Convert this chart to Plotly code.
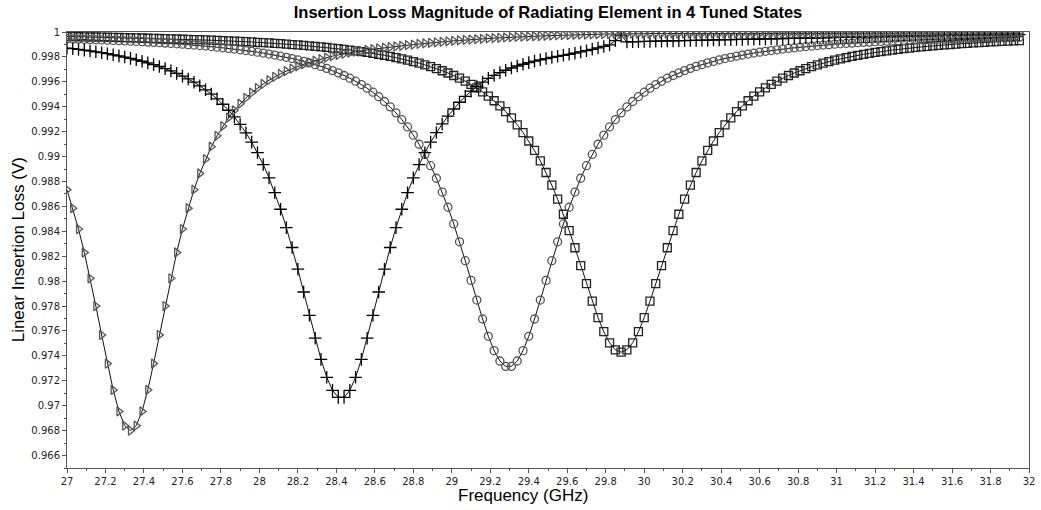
import plotly.graph_objects as go

# Frequency sweep (GHz)
freq = [
    27.00, 27.03, 27.06, 27.09, 27.12, 27.15, 27.18, 27.21, 27.24, 27.27,
    27.30, 27.33, 27.36, 27.39, 27.42, 27.45, 27.48, 27.51, 27.54, 27.57,
    27.60, 27.63, 27.66, 27.69, 27.72, 27.75, 27.78, 27.81, 27.84, 27.87,
    27.90, 27.93, 27.96, 27.99, 28.02, 28.05, 28.08, 28.11, 28.14, 28.17,
    28.20, 28.23, 28.26, 28.29, 28.32, 28.35, 28.38, 28.41, 28.44, 28.47,
    28.50, 28.53, 28.56, 28.59, 28.62, 28.65, 28.68, 28.71, 28.74, 28.77,
    28.80, 28.83, 28.86, 28.89, 28.92, 28.95, 28.98, 29.01, 29.04, 29.07,
    29.10, 29.13, 29.16, 29.19, 29.22, 29.25, 29.28, 29.31, 29.34, 29.37,
    29.40, 29.43, 29.46, 29.49, 29.52, 29.55, 29.58, 29.61, 29.64, 29.67,
    29.70, 29.73, 29.76, 29.79, 29.82, 29.85, 29.88, 29.91, 29.94, 29.97,
    30.00, 30.03, 30.06, 30.09, 30.12, 30.15, 30.18, 30.21, 30.24, 30.27,
    30.30, 30.33, 30.36, 30.39, 30.42, 30.45, 30.48, 30.51, 30.54, 30.57,
    30.60, 30.63, 30.66, 30.69, 30.72, 30.75, 30.78, 30.81, 30.84, 30.87,
    30.90, 30.93, 30.96, 30.99, 31.02, 31.05, 31.08, 31.11, 31.14, 31.17,
    31.20, 31.23, 31.26, 31.29, 31.32, 31.35, 31.38, 31.41, 31.44, 31.47,
    31.50, 31.53, 31.56, 31.59, 31.62, 31.65, 31.68, 31.71, 31.74, 31.77,
    31.80, 31.83, 31.86, 31.89, 31.92, 31.95,
]

# State 1 (triangles)
state_tri = [
    0.98734, 0.98586, 0.98418, 0.98230, 0.98023, 0.97800, 0.97568, 0.97338, 0.97127, 0.96954,
    0.96840, 0.96800, 0.96840, 0.96954, 0.97127, 0.97338, 0.97568, 0.97800, 0.98023, 0.98230,
    0.98418, 0.98586, 0.98734, 0.98864, 0.98979, 0.99079, 0.99167, 0.99244, 0.99312, 0.99371,
    0.99424, 0.99471, 0.99513, 0.99550, 0.99583, 0.99613, 0.99640, 0.99664, 0.99686, 0.99706,
    0.99725, 0.99741, 0.99756, 0.99770, 0.99783, 0.99795, 0.99806, 0.99816, 0.99825, 0.99834,
    0.99842, 0.99849, 0.99856, 0.99862, 0.99868, 0.99874, 0.99879, 0.99884, 0.99889, 0.99894,
    0.99899, 0.99904, 0.99909, 0.99913, 0.99917, 0.99921, 0.99925, 0.99929, 0.99932, 0.99936,
    0.99939, 0.99942, 0.99945, 0.99948, 0.99951, 0.99953, 0.99956, 0.99958, 0.99960, 0.99962,
    0.99964, 0.99966, 0.99968, 0.99970, 0.99972, 0.99973, 0.99975, 0.99976, 0.99978, 0.99979,
    0.99980, 0.99981, 0.99982, 0.99983, 0.99984, 0.99985, 0.99986, 0.99986, 0.99987, 0.99987,
    0.99988, 0.99988, 0.99988, 0.99988, 0.99988, 0.99988, 0.99988, 0.99988, 0.99988, 0.99988,
    0.99988, 0.99989, 0.99989, 0.99989, 0.99989, 0.99989, 0.99989, 0.99989, 0.99989, 0.99989,
    0.99989, 0.99989, 0.99989, 0.99989, 0.99989, 0.99989, 0.99990, 0.99990, 0.99990, 0.99990,
    0.99990, 0.99990, 0.99990, 0.99990, 0.99990, 0.99990, 0.99990, 0.99990, 0.99990, 0.99990,
    0.99990, 0.99991, 0.99991, 0.99991, 0.99991, 0.99991, 0.99991, 0.99991, 0.99991, 0.99991,
    0.99991, 0.99991, 0.99991, 0.99991, 0.99991, 0.99991, 0.99992, 0.99992, 0.99992, 0.99992,
    0.99992, 0.99992, 0.99992, 0.99992, 0.99992, 0.99992,
]

# State 2 (plus)
state_plus = [
    0.99871, 0.99866, 0.99860, 0.99854, 0.99848, 0.99841, 0.99834, 0.99826, 0.99817, 0.99808,
    0.99799, 0.99788, 0.99777, 0.99765, 0.99752, 0.99738, 0.99723, 0.99706, 0.99688, 0.99668,
    0.99646, 0.99623, 0.99597, 0.99568, 0.99536, 0.99502, 0.99463, 0.99420, 0.99372, 0.99318,
    0.99258, 0.99191, 0.99116, 0.99031, 0.98936, 0.98829, 0.98710, 0.98577, 0.98430, 0.98270,
    0.98096, 0.97913, 0.97726, 0.97542, 0.97372, 0.97228, 0.97123, 0.97067, 0.97067, 0.97123,
    0.97228, 0.97372, 0.97542, 0.97726, 0.97913, 0.98096, 0.98270, 0.98430, 0.98577, 0.98710,
    0.98829, 0.98936, 0.99031, 0.99116, 0.99193, 0.99262, 0.99324, 0.99382, 0.99436, 0.99484,
    0.99525, 0.99563, 0.99598, 0.99628, 0.99652, 0.99674, 0.99693, 0.99711, 0.99727, 0.99741,
    0.99754, 0.99766, 0.99777, 0.99787, 0.99796, 0.99805, 0.99813, 0.99821, 0.99830, 0.99840,
    0.99850, 0.99861, 0.99872, 0.99884, 0.99897, 0.99930, 0.99972, 0.99920, 0.99922, 0.99923,
    0.99924, 0.99925, 0.99926, 0.99927, 0.99928, 0.99929, 0.99930, 0.99931, 0.99932, 0.99933,
    0.99934, 0.99935, 0.99936, 0.99937, 0.99938, 0.99939, 0.99940, 0.99941, 0.99942, 0.99943,
    0.99944, 0.99945, 0.99946, 0.99947, 0.99948, 0.99949, 0.99950, 0.99951, 0.99952, 0.99953,
    0.99954, 0.99955, 0.99956, 0.99957, 0.99958, 0.99959, 0.99960, 0.99961, 0.99962, 0.99963,
    0.99964, 0.99965, 0.99966, 0.99967, 0.99968, 0.99969, 0.99970, 0.99970, 0.99971, 0.99971,
    0.99972, 0.99972, 0.99973, 0.99973, 0.99974, 0.99974, 0.99975, 0.99975, 0.99976, 0.99976,
    0.99977, 0.99977, 0.99978, 0.99978, 0.99979, 0.99979,
]

# State 3 (circles)
state_circ = [
    0.99946, 0.99944, 0.99943, 0.99941, 0.99939, 0.99938, 0.99936, 0.99934, 0.99932, 0.99930,
    0.99928, 0.99926, 0.99924, 0.99922, 0.99919, 0.99917, 0.99914, 0.99911, 0.99908, 0.99905,
    0.99902, 0.99898, 0.99895, 0.99891, 0.99887, 0.99883, 0.99878, 0.99873, 0.99868, 0.99863,
    0.99857, 0.99851, 0.99845, 0.99838, 0.99831, 0.99823, 0.99815, 0.99806, 0.99797, 0.99787,
    0.99776, 0.99764, 0.99752, 0.99738, 0.99724, 0.99708, 0.99690, 0.99672, 0.99651, 0.99629,
    0.99605, 0.99578, 0.99549, 0.99517, 0.99481, 0.99442, 0.99399, 0.99351, 0.99297, 0.99238,
    0.99172, 0.99099, 0.99017, 0.98927, 0.98826, 0.98715, 0.98593, 0.98459, 0.98316, 0.98164,
    0.98006, 0.97848, 0.97696, 0.97557, 0.97442, 0.97359, 0.97316, 0.97316, 0.97359, 0.97442,
    0.97557, 0.97696, 0.97848, 0.98006, 0.98164, 0.98316, 0.98459, 0.98593, 0.98715, 0.98826,
    0.98927, 0.99017, 0.99099, 0.99172, 0.99238, 0.99297, 0.99351, 0.99399, 0.99442, 0.99481,
    0.99517, 0.99549, 0.99578, 0.99605, 0.99629, 0.99651, 0.99672, 0.99690, 0.99708, 0.99724,
    0.99738, 0.99752, 0.99764, 0.99776, 0.99787, 0.99797, 0.99806, 0.99815, 0.99823, 0.99831,
    0.99838, 0.99845, 0.99851, 0.99857, 0.99863, 0.99868, 0.99873, 0.99878, 0.99883, 0.99887,
    0.99891, 0.99895, 0.99898, 0.99902, 0.99905, 0.99908, 0.99911, 0.99914, 0.99917, 0.99919,
    0.99922, 0.99924, 0.99926, 0.99928, 0.99930, 0.99932, 0.99934, 0.99936, 0.99938, 0.99939,
    0.99941, 0.99943, 0.99944, 0.99946, 0.99947, 0.99948, 0.99949, 0.99951, 0.99952, 0.99953,
    0.99954, 0.99955, 0.99956, 0.99957, 0.99958, 0.99959,
]

# State 4 (squares)
state_sq = [
    0.99964, 0.99963, 0.99962, 0.99961, 0.99960, 0.99960, 0.99959, 0.99958, 0.99957, 0.99956,
    0.99955, 0.99954, 0.99953, 0.99952, 0.99950, 0.99949, 0.99948, 0.99947, 0.99945, 0.99944,
    0.99942, 0.99941, 0.99939, 0.99938, 0.99936, 0.99934, 0.99932, 0.99931, 0.99929, 0.99926,
    0.99924, 0.99922, 0.99920, 0.99917, 0.99915, 0.99912, 0.99909, 0.99906, 0.99903, 0.99899,
    0.99896, 0.99892, 0.99889, 0.99884, 0.99880, 0.99876, 0.99871, 0.99866, 0.99860, 0.99855,
    0.99849, 0.99842, 0.99836, 0.99828, 0.99821, 0.99813, 0.99804, 0.99794, 0.99784, 0.99774,
    0.99762, 0.99750, 0.99736, 0.99722, 0.99706, 0.99689, 0.99671, 0.99651, 0.99629, 0.99605,
    0.99579, 0.99551, 0.99520, 0.99486, 0.99448, 0.99407, 0.99361, 0.99311, 0.99255, 0.99193,
    0.99125, 0.99049, 0.98965, 0.98872, 0.98770, 0.98658, 0.98537, 0.98406, 0.98268, 0.98125,
    0.97980, 0.97839, 0.97707, 0.97594, 0.97505, 0.97449, 0.97430, 0.97449, 0.97505, 0.97594,
    0.97707, 0.97839, 0.97980, 0.98125, 0.98268, 0.98406, 0.98537, 0.98658, 0.98770, 0.98872,
    0.98965, 0.99049, 0.99125, 0.99193, 0.99255, 0.99311, 0.99361, 0.99407, 0.99448, 0.99486,
    0.99520, 0.99551, 0.99579, 0.99605, 0.99629, 0.99651, 0.99671, 0.99689, 0.99706, 0.99722,
    0.99736, 0.99750, 0.99762, 0.99774, 0.99784, 0.99794, 0.99804, 0.99813, 0.99821, 0.99828,
    0.99836, 0.99842, 0.99849, 0.99855, 0.99860, 0.99866, 0.99871, 0.99876, 0.99880, 0.99884,
    0.99889, 0.99892, 0.99896, 0.99899, 0.99903, 0.99906, 0.99909, 0.99912, 0.99915, 0.99917,
    0.99920, 0.99922, 0.99924, 0.99926, 0.99929, 0.99931,
]

title_text = "Insertion Loss Magnitude of Radiating Element in 4 Tuned States"
x_title = "Frequency (GHz)"
y_title = "Linear Insertion Loss (V)"

series = [
    (state_sq, "square-open", 8, "#222222"),
    (state_circ, "circle-open", 8, "#555555"),
    (state_plus, "cross-thin-open", 9, "#000000"),
    (state_tri, "triangle-right-open", 8, "#555555"),
]

fig = go.Figure()
for vals, sym, size, col in series:
    fig.add_trace(go.Scatter(
        x=freq, y=vals, mode="lines+markers",
        line=dict(color="#111111", width=1),
        marker=dict(symbol=sym, size=size, color=col,
                    line=dict(color=col, width=1.3)),
        showlegend=False,
    ))

tick_font = dict(family="DejaVu Sans", size=10, color="#222222")

fig.update_layout(
    width=1041, height=510,
    margin=dict(l=67, r=6, t=32, b=42),
    paper_bgcolor="white", plot_bgcolor="white",
    title=dict(text="<b>" + title_text + "</b>", x=0.5, xref="paper", xanchor="center",
               y=1 - 12 / 510, yref="container", yanchor="middle",
               font=dict(family="Liberation Sans", size=16.5, color="#000000")),
    xaxis=dict(range=[27, 32], tick0=27, dtick=0.2, ticks="outside", ticklen=4,
               tickcolor="#555555", showline=True, linecolor="#555555", linewidth=1,
               mirror=True, showgrid=False, zeroline=False, tickfont=tick_font,
               ticklabeloverflow="allow",
               minor=dict(dtick=0.1, ticks="outside", ticklen=2, tickcolor="#555555")),
    yaxis=dict(range=[0.965, 1.0], tick0=0, dtick=0.002, ticks="outside", ticklen=4,
               tickcolor="#555555", showline=True, linecolor="#555555", linewidth=1,
               mirror=True, showgrid=False, zeroline=False, tickfont=tick_font,
               minor=dict(dtick=0.001, ticks="outside", ticklen=2, tickcolor="#555555")),
    annotations=[
        dict(text=x_title, xref="paper", yref="paper", x=0.4742, y=-0.062,
             xanchor="center", yanchor="middle", showarrow=False,
             font=dict(family="Liberation Sans", size=17, color="#000000")),
        dict(text=y_title, xref="paper", yref="paper", x=-0.0506, y=0.5,
             xanchor="center", yanchor="middle", showarrow=False, textangle=-90,
             font=dict(family="Liberation Sans", size=17, color="#000000")),
    ],
)

fig.write_html("out.html")
